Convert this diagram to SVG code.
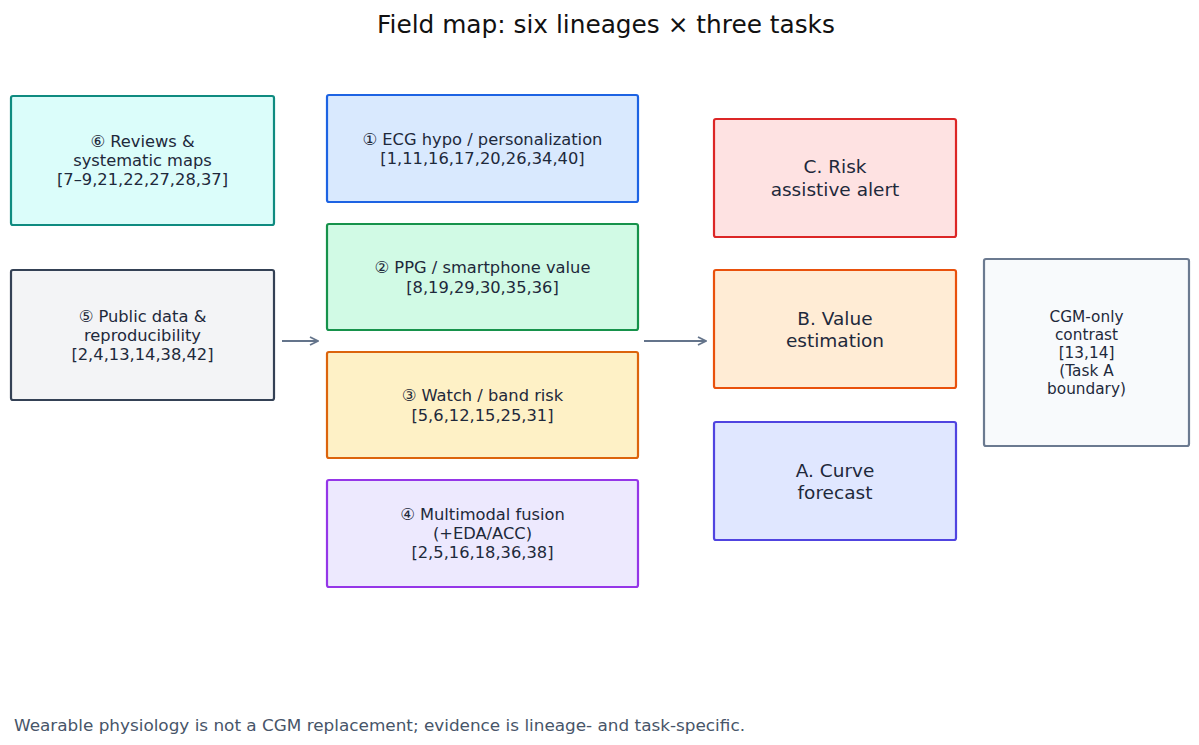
<svg xmlns="http://www.w3.org/2000/svg" width="1199" height="745" viewBox="0 0 1199 745">
<style>
text{font-family:"DejaVu Sans","Liberation Sans",sans-serif;fill:#1e293b;text-anchor:middle}
.t{font-size:16.3px}
.k{font-size:18.5px}
.s{font-size:15.3px}
.title{font-size:24.8px;fill:#111111}
.foot{font-size:16px;fill:#475569;text-anchor:start}
rect{stroke-width:2.2}
.conn{stroke:#64748b;stroke-width:2;fill:none}
</style>
<defs>
<marker id="ah" viewBox="0 0 10 10" refX="9" refY="5" markerWidth="10" markerHeight="10" markerUnits="userSpaceOnUse" orient="auto">
<path d="M1,1 L9,5 L1,9" fill="none" stroke="#64748b" stroke-width="1.8"/>
</marker>
</defs>
<rect width="1199" height="745" fill="#ffffff" stroke="none"/>
<text class="title" x="606" y="33">Field map: six lineages × three tasks</text>

<g id="n6">
<rect x="11" y="96" width="263" height="129" rx="2" fill="#dbfdfa" stroke="#0f8b80"/>
<text class="t" x="142.5" y="147">⑥ Reviews &amp;</text>
<text class="t" x="142.5" y="166">systematic maps</text>
<text class="t" x="142.5" y="185">[7–9,21,22,27,28,37]</text>
</g>
<g id="n5">
<rect x="11" y="270" width="263" height="130" rx="2" fill="#f3f4f6" stroke="#344155"/>
<text class="t" x="142.5" y="322">⑤ Public data &amp;</text>
<text class="t" x="142.5" y="341">reproducibility</text>
<text class="t" x="142.5" y="360">[2,4,13,14,38,42]</text>
</g>
<g id="n1">
<rect x="327" y="95" width="311" height="107" rx="2" fill="#d9e9fe" stroke="#1d63e3"/>
<text class="t" x="482.5" y="144.5">① ECG hypo / personalization</text>
<text class="t" x="482.5" y="164">[1,11,16,17,20,26,34,40]</text>
</g>
<g id="n2">
<rect x="327" y="224" width="311" height="106" rx="2" fill="#d1fae5" stroke="#16924b"/>
<text class="t" x="482.5" y="273">② PPG / smartphone value</text>
<text class="t" x="482.5" y="292.5">[8,19,29,30,35,36]</text>
</g>
<g id="n3">
<rect x="327" y="352" width="311" height="106" rx="2" fill="#fef1c6" stroke="#dc640c"/>
<text class="t" x="482.5" y="401">③ Watch / band risk</text>
<text class="t" x="482.5" y="420.5">[5,6,12,15,25,31]</text>
</g>
<g id="n4">
<rect x="327" y="480" width="311" height="107" rx="2" fill="#ede9fe" stroke="#9536e8"/>
<text class="t" x="482.5" y="520">④ Multimodal fusion</text>
<text class="t" x="482.5" y="539">(+EDA/ACC)</text>
<text class="t" x="482.5" y="558">[2,5,16,18,36,38]</text>
</g>
<g id="nC">
<rect x="714" y="119" width="242" height="118" rx="2" fill="#fee2e2" stroke="#dc2626"/>
<text class="k" x="835" y="173">C. Risk</text>
<text class="k" x="835" y="195.5">assistive alert</text>
</g>
<g id="nB">
<rect x="714" y="270" width="242" height="118" rx="2" fill="#ffecd5" stroke="#e9510c"/>
<text class="k" x="835" y="324.5">B. Value</text>
<text class="k" x="835" y="347">estimation</text>
</g>
<g id="nA">
<rect x="714" y="422" width="242" height="118" rx="2" fill="#e0e7ff" stroke="#5044e0"/>
<text class="k" x="835" y="476.5">A. Curve</text>
<text class="k" x="835" y="499">forecast</text>
</g>
<g id="nCGM">
<rect x="984" y="259" width="205" height="187" rx="2" fill="#f8fafc" stroke="#6b7a90"/>
<text class="s" x="1086.5" y="322">CGM-only</text>
<text class="s" x="1086.5" y="340">contrast</text>
<text class="s" x="1086.5" y="358">[13,14]</text>
<text class="s" x="1086.5" y="376">(Task A</text>
<text class="s" x="1086.5" y="394">boundary)</text>
</g>

<g id="connectors">
<path class="conn" d="M282,341 L318,341" marker-end="url(#ah)"/>
<path class="conn" d="M644,341 L706,341" marker-end="url(#ah)"/>
</g>

<text class="foot" x="14" y="731" textLength="731" lengthAdjust="spacingAndGlyphs">Wearable physiology is not a CGM replacement; evidence is lineage- and task-specific.</text>
</svg>
